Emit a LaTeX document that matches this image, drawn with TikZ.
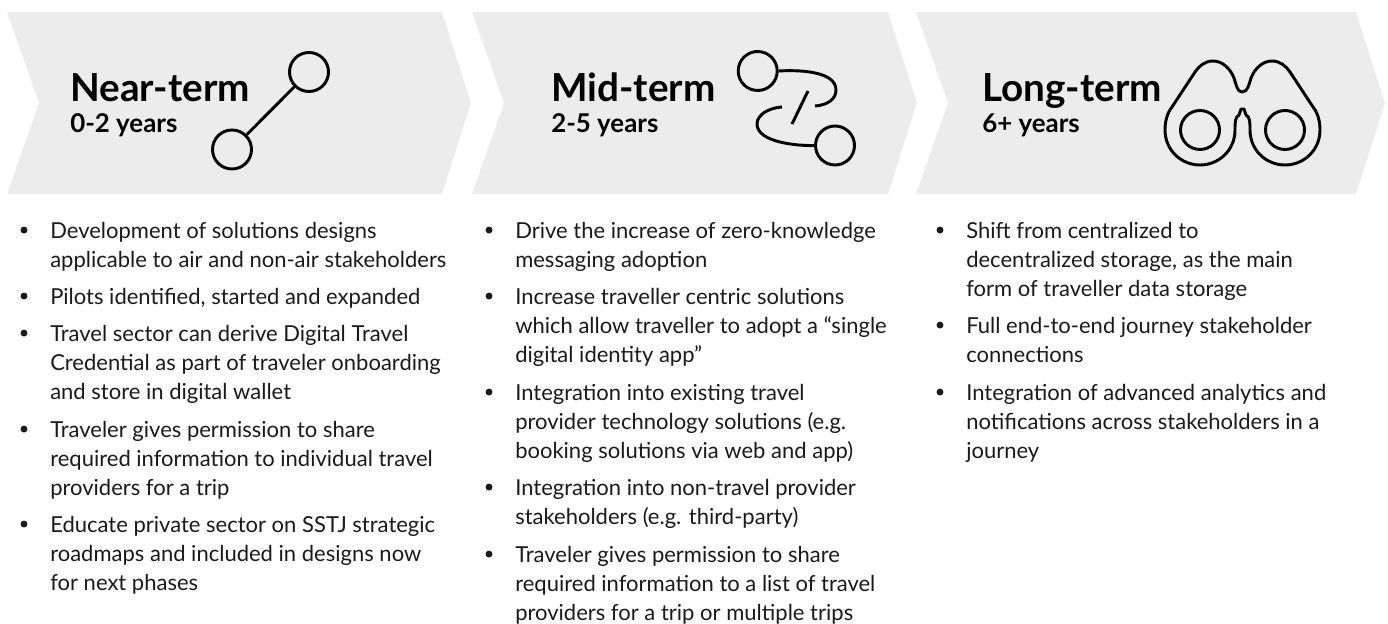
\documentclass[tikz,border=0pt]{standalone}
\usepackage{fontspec}
\setmainfont{Lato}
\usepackage{tikz}
\usetikzlibrary{positioning}

\definecolor{stagegrey}{HTML}{ECECEC}
\definecolor{pointtext}{HTML}{1A1A1A}
\tikzset{
    stage/.style = {fill = stagegrey , draw = none},
    stagetitle/.style = {anchor = base west , font = \fontsize{29}{29}\selectfont\bfseries , inner sep = 0pt},
    stageyears/.style = {anchor = base west , font = \fontsize{19.4}{19.4}\selectfont\bfseries , inner sep = 0pt},
    ring/.style = {circle , draw = black , line width = 2.2pt , minimum size = 29.25pt , inner sep = 0pt},
    iconline/.style = {draw = black , line width = 2.2pt},
    point/.style = {anchor = north west , align = left , inner sep = 0pt , text = pointtext ,
        font = \fontsize{16.5}{22}\selectfont},
    dot/.style = {circle , fill = pointtext , minimum size = 5.2pt , inner sep = 0pt}
}

\begin{document}
\begin{tikzpicture}[x = 0.75pt , y = -0.75pt]
    \useasboundingbox (0,0) rectangle (1388,624);
    % Βελη
    \fill[stage] (7,12) -- (442,12) -- (471,103) -- (442,194) -- (7,194) -- (39,103) -- cycle;
    \fill[stage] (472,12) -- (888,12) -- (917,103) -- (888,194) -- (472,194) -- (504,103) -- cycle;
    \fill[stage] (916,12) -- (1356,12) -- (1385,103) -- (1356,194) -- (916,194) -- (948,103) -- cycle;

    % Τιτλοι
    \node[stagetitle] (near) at (70,102) {Near-term};
    \node[stageyears] (nearyears) at (70,133) {0-2 years};
    \node[stagetitle] (mid) at (551,102) {Mid-term};
    \node[stageyears] (midyears) at (551,133) {2-5 years};
    \node[stagetitle] (long) at (982,102) {Long-term};
    \node[stageyears] (longyears) at (982,133) {6+ years};

    % Εικονιδια
    \node[ring] (neara) at (309,72) {};
    \node[ring] (nearb) at (232,149.5) {};
    \draw[iconline] (neara) -- (nearb);

    \node[ring] (mida) at (757.7,71) {};
    \node[ring] (midb) at (835,145.5) {};
    \coordinate (midc) at (815,106);
    \coordinate (midd) at (782,107);
    \coordinate (mide) at (808,91);
    \coordinate (midf) at (792,124);
    \draw[iconline] (mida.east) .. controls (795,70) and (836,70) .. (836,90) .. controls (836,99) and (828,105) .. (midc);
    \draw[iconline] (midb.west) .. controls (800,146) and (757,143) .. (757,124) .. controls (757,115) and (768,108) .. (midd);
    \draw[iconline] (mide) -- (midf);

    \node[ring] (longa) at (1200,130) {};
    \node[ring] (longb) at (1285,130) {};
    \draw[iconline , line join = round] (1242,92)
        .. controls (1237,92) and (1236,84) .. (1234,78)
        .. controls (1230,68) and (1222,61) .. (1213,61)
        .. controls (1205,61) and (1199,66) .. (1195,72)
        -- (1172,107)
        .. controls (1167,113) and (1165,122) .. (1165,130)
        .. controls (1165,150) and (1181,165) .. (1200,165)
        .. controls (1219,165) and (1235,150) .. (1235,130)
        .. controls (1235,122) and (1235,117) .. (1239,115)
        -- (1241,109) -- (1244,109) -- (1246,115)
        .. controls (1250,117) and (1250,122) .. (1250,130)
        .. controls (1250,150) and (1266,165) .. (1285,165)
        .. controls (1304,165) and (1320,150) .. (1320,130)
        .. controls (1320,122) and (1318,113) .. (1313,107)
        -- (1290,72)
        .. controls (1286,66) and (1280,61) .. (1272,61)
        .. controls (1263,61) and (1255,68) .. (1251,78)
        .. controls (1249,84) and (1248,92) .. (1242,92) -- cycle;

    % Πρωτη στηλη
    \node[point] (na) at (50,217.5) {\strut Development of solutions designs\\applicable to air and non-air stakeholders};
    \node[point] (nb) at (50,283.5) {\strut Pilots identified, started and expanded};
    \node[point] (nc) at (50,320.5) {\strut Travel sector can derive Digital Travel\\Credential as part of traveler onboarding\\and store in digital wallet};
    \node[point] (nd) at (50,416.5) {\strut Traveler gives permission to share\\required information to individual travel\\providers for a trip};
    \node[point] (ne) at (50,511.5) {\strut Educate private sector on SSTJ strategic\\roadmaps and included in designs now\\for next phases};
    \foreach \p in {na,nb,nc,nd,ne}
        \node[dot] (\p dot) at ([xshift = -19.5pt , yshift = -9.4pt]\p.north west) {};

    % Δευτερη στηλη
    \node[point] (ma) at (515,217.5) {\strut Drive the increase of zero-knowledge\\messaging adoption};
    \node[point] (mb) at (515,283.5) {\strut Increase traveller centric solutions\\which allow traveller to adopt a “single\\digital identity app”};
    \node[point] (mc) at (515,379.5) {\strut Integration into existing travel\\provider technology solutions (e.g.\\booking solutions via web and app)};
    \node[point] (md) at (515,474.5) {\strut Integration into non-travel provider\\stakeholders (e.g. third-party)};
    \node[point] (me) at (515,541.5) {\strut Traveler gives permission to share\\required information to a list of travel\\providers for a trip or multiple trips};
    \foreach \p in {ma,mb,mc,md,me}
        \node[dot] (\p dot) at ([xshift = -19.5pt , yshift = -9.4pt]\p.north west) {};

    % Τριτη στηλη
    \node[point] (la) at (966,217.5) {\strut Shift from centralized to\\decentralized storage, as the main\\form of traveller data storage};
    \node[point] (lb) at (966,312.5) {\strut Full end-to-end journey stakeholder\\connections};
    \node[point] (lc) at (966,379.5) {\strut Integration of advanced analytics and\\notifications across stakeholders in a\\journey};
    \foreach \p in {la,lb,lc}
        \node[dot] (\p dot) at ([xshift = -19.5pt , yshift = -9.4pt]\p.north west) {};
\end{tikzpicture}
\end{document}
